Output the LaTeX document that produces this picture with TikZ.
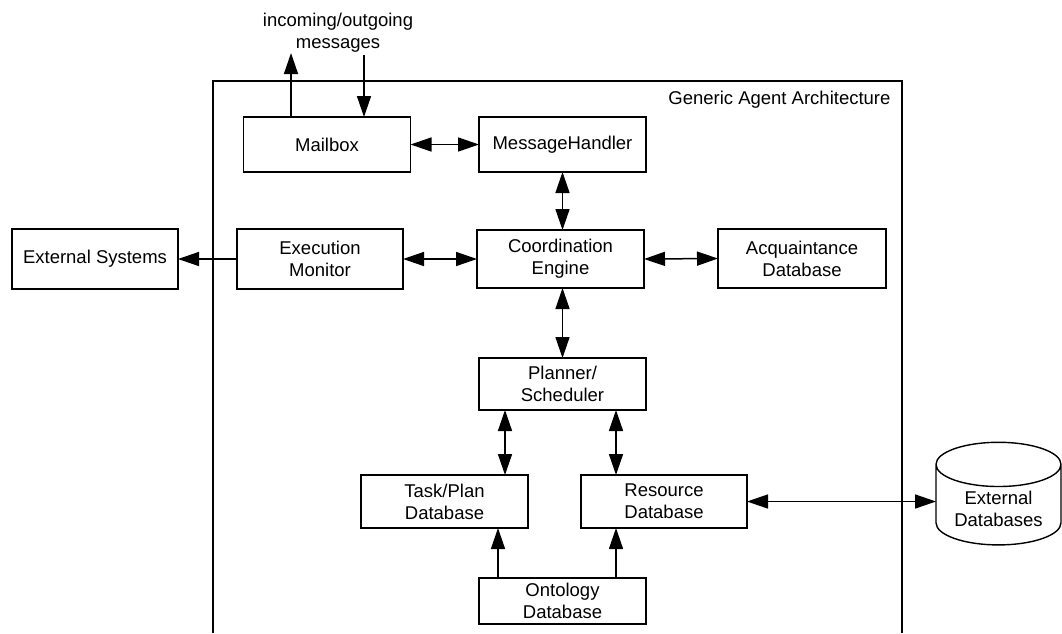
\documentclass[tikz,border=0pt]{standalone}
\usepackage{fontspec}
\setmainfont{Liberation Sans}
\usetikzlibrary{arrows.meta,shapes.geometric}
\begin{document}
\begin{tikzpicture}[x=1pt,y=-1pt,
  lbl/.style={font=\fontsize{18.5}{22}\selectfont,align=center},
  box/.style={lbl,draw,line width=1.4pt,inner sep=0pt,outer sep=0pt,minimum width=167pt},
  tip/.tip={Triangle[length=21pt,width=14pt]},
  link/.style={line width=1.5pt,tip-tip},
  oneway/.style={line width=1.5pt,-tip}]
\useasboundingbox (0,0) rectangle (1062,633);

% agent boundary (open at the bottom)
\draw[line width=1.4pt] (213,633) -- (213,81) -- (902,81) -- (902,633);
\node[lbl,anchor=east] (title) at (894,100) {Generic Agent Architecture};

% components
\node[box,minimum height=55pt] (mailbox)  at (327,144.5)   {Mailbox};
\node[box,minimum height=55pt] (handler)  at (562.5,144.5) {MessageHandler};
\node[box,minimum height=60pt,minimum width=166pt] (extsys) at (95,259) {External Systems};
\node[box,minimum height=60pt,minimum width=166pt] (monitor) at (320,259) {Execution\\Monitor};
\node[box,minimum height=58pt] (coord)    at (560.5,259)   {Coordination\\Engine};
\node[box,minimum height=59pt,minimum width=168pt] (acq) at (802,258.5) {Acquaintance\\Database};
\node[box,minimum height=52pt] (planner)  at (562.5,384)   {Planner/\\Scheduler};
\node[box,minimum height=53pt] (taskplan) at (444.5,501.5) {Task/Plan\\Database};
\node[box,minimum height=53pt,minimum width=166pt] (resource) at (664,501.5) {Resource\\Database};
\node[box,minimum height=46pt] (ontology) at (562.5,601)   {Ontology\\Database};

% external store: cylinder sized by its (hidden) text, label set a little lower
\node[lbl,draw,line width=1.4pt,cylinder,shape border rotate=90,aspect=0.5,
      minimum width=125pt,minimum height=97pt,inner sep=0pt,outer sep=0pt] (extdb)
      at (998.5,505) {\phantom{External}\\\phantom{Databases}};
\node[lbl] (extdbtext) at ([yshift=-4pt]extdb.center) {External\\Databases};

% message traffic
\node[lbl] (msgs) at (338,33) {incoming/outgoing\\messages};
\coordinate (outtip) at (291,53);
\coordinate (intail) at (364,55);
\draw[oneway] (outtip |- mailbox.north) -- (outtip);
\draw[oneway] (intail) -- (intail |- mailbox.north);

% connectors
\draw[link] (mailbox.east) -- (handler.west);
\draw[link] (handler.south) -- (handler.south |- coord.north);
\draw[oneway] (monitor.west) -- (extsys.east);
\draw[link] (monitor.east) -- (coord.west);
\draw[link] (coord.east) -- (acq.west);
\draw[link] (coord.south -| planner.south) -- (planner.north);
\coordinate (pl) at ([xshift=26pt]planner.south west);
\coordinate (pr) at ([xshift=137pt]planner.south west);
\draw[link] (pl) -- (pl |- taskplan.north);
\draw[link] (pr) -- (pr |- resource.north);
\coordinate (ol) at ([xshift=19pt]ontology.north west);
\coordinate (or) at ([xshift=137pt]ontology.north west);
\draw[oneway] (ol) -- (ol |- taskplan.south);
\draw[oneway] (or) -- (or |- resource.south);
\draw[link] (resource.east) -- (resource.east -| extdb.west);
\end{tikzpicture}
\end{document}
